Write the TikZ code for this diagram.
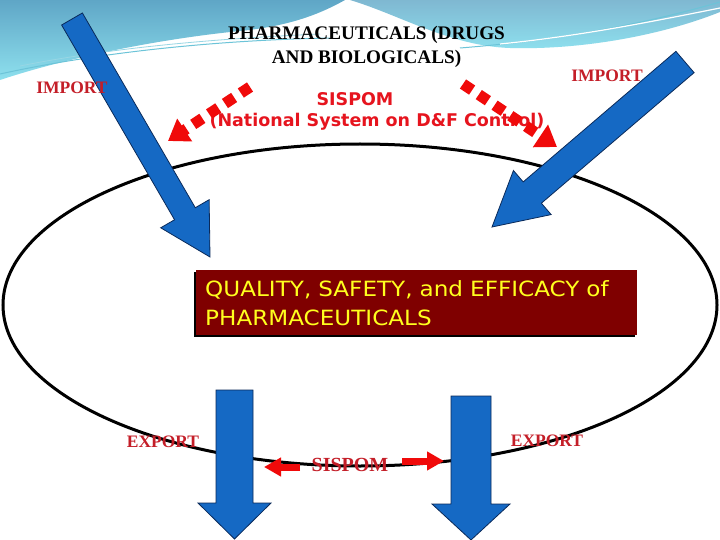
\documentclass[tikz,border=0pt]{standalone}
\usepackage{fontspec}
\setmainfont{Liberation Serif}
\newfontfamily\tahoma{DejaVu Sans}
\newfontfamily\widesans[FakeStretch=1.1]{DejaVu Sans}
\usetikzlibrary{calc,arrows.meta,shadows}
\definecolor{blockblue}{HTML}{1569C4}
\definecolor{blockedge}{HTML}{0A2A5A}
\definecolor{labelred}{HTML}{C41E28}
\definecolor{brightred}{HTML}{F00A0A}
\definecolor{sisred}{HTML}{E6141E}
\definecolor{boxred}{HTML}{7F0000}
\definecolor{boxyellow}{HTML}{FFFF1E}
\definecolor{tealtop}{HTML}{5FA6C6}
\definecolor{tealbot}{HTML}{8EE0EE}
\definecolor{tealline}{HTML}{6CC4D8}
\newcommand{\blockarrow}[5]{%
  \coordinate (ba-n) at ($(#2)!#5!(#1)$);
  \draw[blockarr] ($(#1)!#3!90:(#2)$) -- ($(ba-n)!#3!90:(#2)$) -- ($(ba-n)!#4!90:(#2)$) -- (#2)
     -- ($(ba-n)!#4!-90:(#2)$) -- ($(ba-n)!#3!-90:(#2)$) -- ($(#1)!#3!-90:(#2)$) -- cycle;}
\tikzset{
  blockarr/.style={fill=blockblue, draw=blockedge, line width=0.8pt, line join=miter},
  lbl/.style={text=labelred, font=\bfseries\fontsize{17.5}{20}\selectfont, inner sep=0pt},
  dashedarrow/.style={draw=brightred, line width=11pt, dash pattern=on 11pt off 8pt,
     -{Triangle[length=20pt,width=26pt]}},
  smallarrow/.style={draw=brightred, line width=7pt, -{Triangle[length=17pt,width=18pt]}},
  sistext/.style={text=sisred, font=\tahoma\bfseries\fontsize{17.5}{21}\selectfont, inner sep=0pt},
  qbox/.style={fill=boxred, minimum width=441pt, minimum height=65pt, anchor=north west,
     text width=423pt, align=left, inner sep=9pt, text=boxyellow,
     font=\widesans\fontsize{21}{29}\selectfont,
     drop shadow={shadow xshift=-2pt, shadow yshift=-2pt, opacity=1, fill=black}},
}
\begin{document}
\begin{tikzpicture}[x=1pt,y=-1pt]
\useasboundingbox (0,0) rectangle (720,540);
\fill[white] (0,0) rectangle (720,540);
% top swoosh band
\shade[top color=tealtop, bottom color=tealbot] (0,0) -- (0,80)
  .. controls (60,60) and (150,40) .. (240,31) .. controls (290,26) and (320,14) .. (345,0) -- cycle;
\shade[top color=tealtop!80!white, bottom color=tealbot] (350,0)
  .. controls (400,15) and (450,46) .. (510,48) .. controls (580,50) and (660,36) .. (720,12) -- (720,0) -- cycle;
\draw[tealline, line width=1pt] (0,74) .. controls (100,52) and (220,40) .. (330,38);
\draw[tealline!70!white, line width=0.8pt] (20,66) .. controls (120,46) and (230,38) .. (320,34);
\draw[tealline, line width=1pt] (460,48) .. controls (560,40) and (640,25) .. (720,2);
\draw[white, line width=1.2pt] (500,44) .. controls (580,36) and (650,22) .. (720,8);
% main ellipse
\draw[line width=3pt] (360,305) ellipse [x radius=357pt, y radius=161pt];
% import arrows
\coordinate (impLs) at (72,19);
\coordinate (impLt) at (210,257);
\blockarrow{impLs}{impLt}{12pt}{28pt}{50pt}
\coordinate (impRs) at (685,62);
\coordinate (impRt) at (492,227);
\blockarrow{impRs}{impRt}{14pt}{29pt}{53pt}
% central box
\node[qbox] (box) at (196,270) {QUALITY, SAFETY, and EFFICACY of\\PHARMACEUTICALS};
% export arrows
\coordinate (expLs) at (234.5,390);
\coordinate (expLt) at (234.5,539);
\blockarrow{expLs}{expLt}{18.5pt}{36.5pt}{36pt}
\coordinate (expRs) at (471,396);
\coordinate (expRt) at (471,540);
\blockarrow{expRs}{expRt}{20pt}{39pt}{36pt}
% texts
\node[font=\bfseries\fontsize{19.2}{24}\selectfont, align=center, inner sep=0pt] (title) at (366.5,47)
  {PHARMACEUTICALS (DRUGS\\AND BIOLOGICALS)};
\node[lbl] (impL) at (72,88) {IMPORT};
\node[lbl] (impR) at (607,76) {IMPORT};
\node[lbl] (expL) at (163,442) {EXPORT};
\node[lbl] (expR) at (547,441) {EXPORT};
\node[lbl, font=\bfseries\fontsize{20}{22}\selectfont] (sisB) at (350,465) {SISPOM};
\node[sistext] (sisT) at (355,99) {SISPOM};
\node[sistext] (sisN) at (377,122) {(National System on D\&F Control)};
% red dashed arrows
\coordinate (dLs) at (250,87);
\coordinate (dLt) at (168,141);
\draw[dashedarrow] (dLs) -- (dLt);
\coordinate (dRs) at (463,84);
\coordinate (dRt) at (557,147);
\draw[dashedarrow] (dRs) -- (dRt);
% bottom red arrows
\coordinate (bLs) at (300,467);
\coordinate (bLt) at (264,467);
\draw[smallarrow] (bLs) -- (bLt);
\coordinate (bRs) at (402,461);
\coordinate (bRt) at (444,461);
\draw[smallarrow] (bRs) -- (bRt);
\end{tikzpicture}
\end{document}
